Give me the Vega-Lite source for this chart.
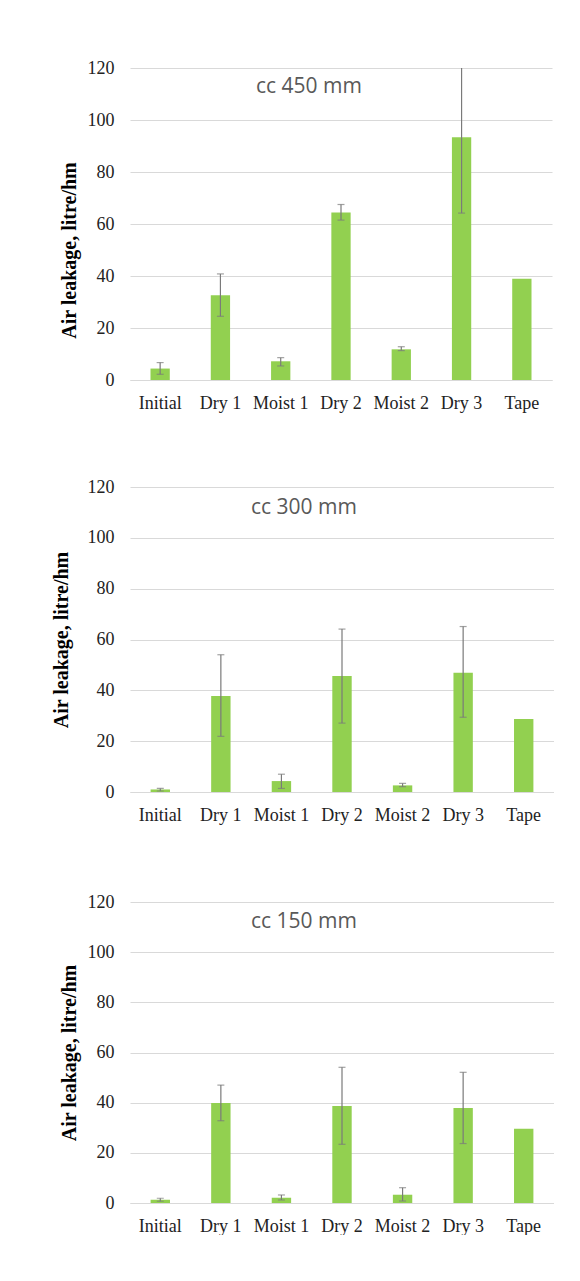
{
  "$schema": "https://vega.github.io/schema/vega-lite/v6.json",
  "padding": {"left": 51, "top": 59, "right": 0, "bottom": 0},
  "background": "white",
  "config": {
    "view": {"stroke": null},
    "axis": {
      "labelFont": "Liberation Serif",
      "labelFontSize": 18,
      "labelColor": "#222222",
      "titleFont": "Liberation Serif",
      "titleFontSize": 20,
      "titleFontWeight": "bold",
      "titleColor": "#000000",
      "ticks": false,
      "tickSize": 0
    },
    "title": {"font": "Open Sans", "fontSize": 21, "fontWeight": "normal", "color": "#595959", "orient": "top", "anchor": "middle", "frame": "group"}
  },
  "data": {
    "values": [
      {"panel": "cc 450 mm", "cat": "Initial", "v": 4.4, "lo": 2.2, "hi": 6.7},
      {"panel": "cc 450 mm", "cat": "Dry 1", "v": 32.6, "lo": 24.5, "hi": 40.8},
      {"panel": "cc 450 mm", "cat": "Moist 1", "v": 7.2, "lo": 5.4, "hi": 8.6},
      {"panel": "cc 450 mm", "cat": "Dry 2", "v": 64.4, "lo": 61.5, "hi": 67.5},
      {"panel": "cc 450 mm", "cat": "Moist 2", "v": 11.8, "lo": 11.3, "hi": 12.8},
      {"panel": "cc 450 mm", "cat": "Dry 3", "v": 93.4, "lo": 64.2, "hi": 122.6},
      {"panel": "cc 450 mm", "cat": "Tape", "v": 38.9, "lo": null, "hi": null},
      {"panel": "cc 300 mm", "cat": "Initial", "v": 1.0, "lo": 0.4, "hi": 1.4},
      {"panel": "cc 300 mm", "cat": "Dry 1", "v": 37.8, "lo": 21.9, "hi": 54.0},
      {"panel": "cc 300 mm", "cat": "Moist 1", "v": 4.3, "lo": 1.4, "hi": 7.0},
      {"panel": "cc 300 mm", "cat": "Dry 2", "v": 45.6, "lo": 27.1, "hi": 64.1},
      {"panel": "cc 300 mm", "cat": "Moist 2", "v": 2.6, "lo": 2.1, "hi": 3.4},
      {"panel": "cc 300 mm", "cat": "Dry 3", "v": 46.9, "lo": 29.4, "hi": 65.1},
      {"panel": "cc 300 mm", "cat": "Tape", "v": 28.7, "lo": null, "hi": null},
      {"panel": "cc 150 mm", "cat": "Initial", "v": 1.3, "lo": 0.7, "hi": 1.9},
      {"panel": "cc 150 mm", "cat": "Dry 1", "v": 39.9, "lo": 32.8, "hi": 47.0},
      {"panel": "cc 150 mm", "cat": "Moist 1", "v": 2.1, "lo": 1.2, "hi": 3.2},
      {"panel": "cc 150 mm", "cat": "Dry 2", "v": 38.7, "lo": 23.4, "hi": 54.1},
      {"panel": "cc 150 mm", "cat": "Moist 2", "v": 3.3, "lo": 0.8, "hi": 6.1},
      {"panel": "cc 150 mm", "cat": "Dry 3", "v": 37.9, "lo": 23.7, "hi": 52.1},
      {"panel": "cc 150 mm", "cat": "Tape", "v": 29.6, "lo": null, "hi": null}
    ]
  },
  "spacing": 66,
  "vconcat": [
    {
      "width": 422,
      "height": 312,
      "title": {"text": "cc 450 mm", "dx": -32, "offset": -38},
      "transform": [{"filter": "datum.panel == 'cc 450 mm'"}],
      "encoding": {
        "x": {"field": "cat", "type": "nominal", "sort": null, "title": null,
          "scale": {"paddingInner": 0, "paddingOuter": 0},
          "axis": {"labelAngle": 0, "domainColor": "#d9d9d9", "labelPadding": 14, "grid": false}}
      },
      "layer": [
        {
          "mark": {"type": "bar", "color": "#92D050", "width": {"band": 0.32}},
          "encoding": {
            "y": {"field": "v", "type": "quantitative", "title": "Air leakage, litre/hm",
              "scale": {"domain": [0, 120], "nice": false},
              "axis": {"values": [0, 20, 40, 60, 80, 100, 120], "domain": false, "labelPadding": 16, "titlePadding": 8, "titleY": 182, "gridColor": "#d9d9d9"}}
          }
        },
        {
          "transform": [{"filter": "datum.lo != null"}],
          "mark": {"type": "rule", "color": "#7a7a7a", "strokeWidth": 1.2, "clip": true},
          "encoding": {"y": {"field": "lo", "type": "quantitative", "title": "Air leakage, litre/hm"}, "y2": {"field": "hi"}}
        },
        {
          "transform": [{"filter": "datum.lo != null"}],
          "mark": {"type": "tick", "orient": "horizontal", "size": 7, "thickness": 1.2, "color": "#7a7a7a", "clip": true},
          "encoding": {"y": {"field": "lo", "type": "quantitative", "title": "Air leakage, litre/hm"}}
        },
        {
          "transform": [{"filter": "datum.hi != null"}],
          "mark": {"type": "tick", "orient": "horizontal", "size": 7, "thickness": 1.2, "color": "#7a7a7a", "clip": true},
          "encoding": {"y": {"field": "hi", "type": "quantitative", "title": "Air leakage, litre/hm"}}
        }
      ]
    },
    {
      "spacing": 69,
      "vconcat": [
        {
          "width": 424,
          "height": 305,
          "title": {"text": "cc 300 mm", "dx": -38, "offset": -40},
          "transform": [{"filter": "datum.panel == 'cc 300 mm'"}],
          "encoding": {
            "x": {"field": "cat", "type": "nominal", "sort": null, "title": null,
              "scale": {"paddingInner": 0, "paddingOuter": 0},
              "axis": {"labelAngle": 0, "domainColor": "#d9d9d9", "labelPadding": 14, "grid": false}}
          },
          "layer": [
            {
              "mark": {"type": "bar", "color": "#92D050", "width": {"band": 0.32}},
              "encoding": {
                "y": {"field": "v", "type": "quantitative", "title": "Air leakage, litre/hm",
                  "scale": {"domain": [0, 120], "nice": false},
                  "axis": {"values": [0, 20, 40, 60, 80, 100, 120], "domain": false, "labelPadding": 16, "titlePadding": 16, "gridColor": "#d9d9d9"}}
              }
            },
            {
              "transform": [{"filter": "datum.lo != null"}],
              "mark": {"type": "rule", "color": "#7a7a7a", "strokeWidth": 1.2, "clip": true},
              "encoding": {"y": {"field": "lo", "type": "quantitative", "title": "Air leakage, litre/hm"}, "y2": {"field": "hi"}}
            },
            {
              "transform": [{"filter": "datum.lo != null"}],
              "mark": {"type": "tick", "orient": "horizontal", "size": 7, "thickness": 1.2, "color": "#7a7a7a", "clip": true},
              "encoding": {"y": {"field": "lo", "type": "quantitative", "title": "Air leakage, litre/hm"}}
            },
            {
              "transform": [{"filter": "datum.hi != null"}],
              "mark": {"type": "tick", "orient": "horizontal", "size": 7, "thickness": 1.2, "color": "#7a7a7a", "clip": true},
              "encoding": {"y": {"field": "hi", "type": "quantitative", "title": "Air leakage, litre/hm"}}
            }
          ]
        },
        {
          "width": 424,
          "height": 301,
          "title": {"text": "cc 150 mm", "dx": -38, "offset": -39},
          "transform": [{"filter": "datum.panel == 'cc 150 mm'"}],
          "encoding": {
            "x": {"field": "cat", "type": "nominal", "sort": null, "title": null,
              "scale": {"paddingInner": 0, "paddingOuter": 0},
              "axis": {"labelAngle": 0, "domainColor": "#d9d9d9", "labelPadding": 14, "grid": false}}
          },
          "layer": [
            {
              "mark": {"type": "bar", "color": "#92D050", "width": {"band": 0.32}},
              "encoding": {
                "y": {"field": "v", "type": "quantitative", "title": "Air leakage, litre/hm",
                  "scale": {"domain": [0, 120], "nice": false},
                  "axis": {"values": [0, 20, 40, 60, 80, 100, 120], "domain": false, "labelPadding": 16, "titlePadding": 8, "gridColor": "#d9d9d9"}}
              }
            },
            {
              "transform": [{"filter": "datum.lo != null"}],
              "mark": {"type": "rule", "color": "#7a7a7a", "strokeWidth": 1.2, "clip": true},
              "encoding": {"y": {"field": "lo", "type": "quantitative", "title": "Air leakage, litre/hm"}, "y2": {"field": "hi"}}
            },
            {
              "transform": [{"filter": "datum.lo != null"}],
              "mark": {"type": "tick", "orient": "horizontal", "size": 7, "thickness": 1.2, "color": "#7a7a7a", "clip": true},
              "encoding": {"y": {"field": "lo", "type": "quantitative", "title": "Air leakage, litre/hm"}}
            },
            {
              "transform": [{"filter": "datum.hi != null"}],
              "mark": {"type": "tick", "orient": "horizontal", "size": 7, "thickness": 1.2, "color": "#7a7a7a", "clip": true},
              "encoding": {"y": {"field": "hi", "type": "quantitative", "title": "Air leakage, litre/hm"}}
            }
          ]
        }
      ]
    }
  ]
}
